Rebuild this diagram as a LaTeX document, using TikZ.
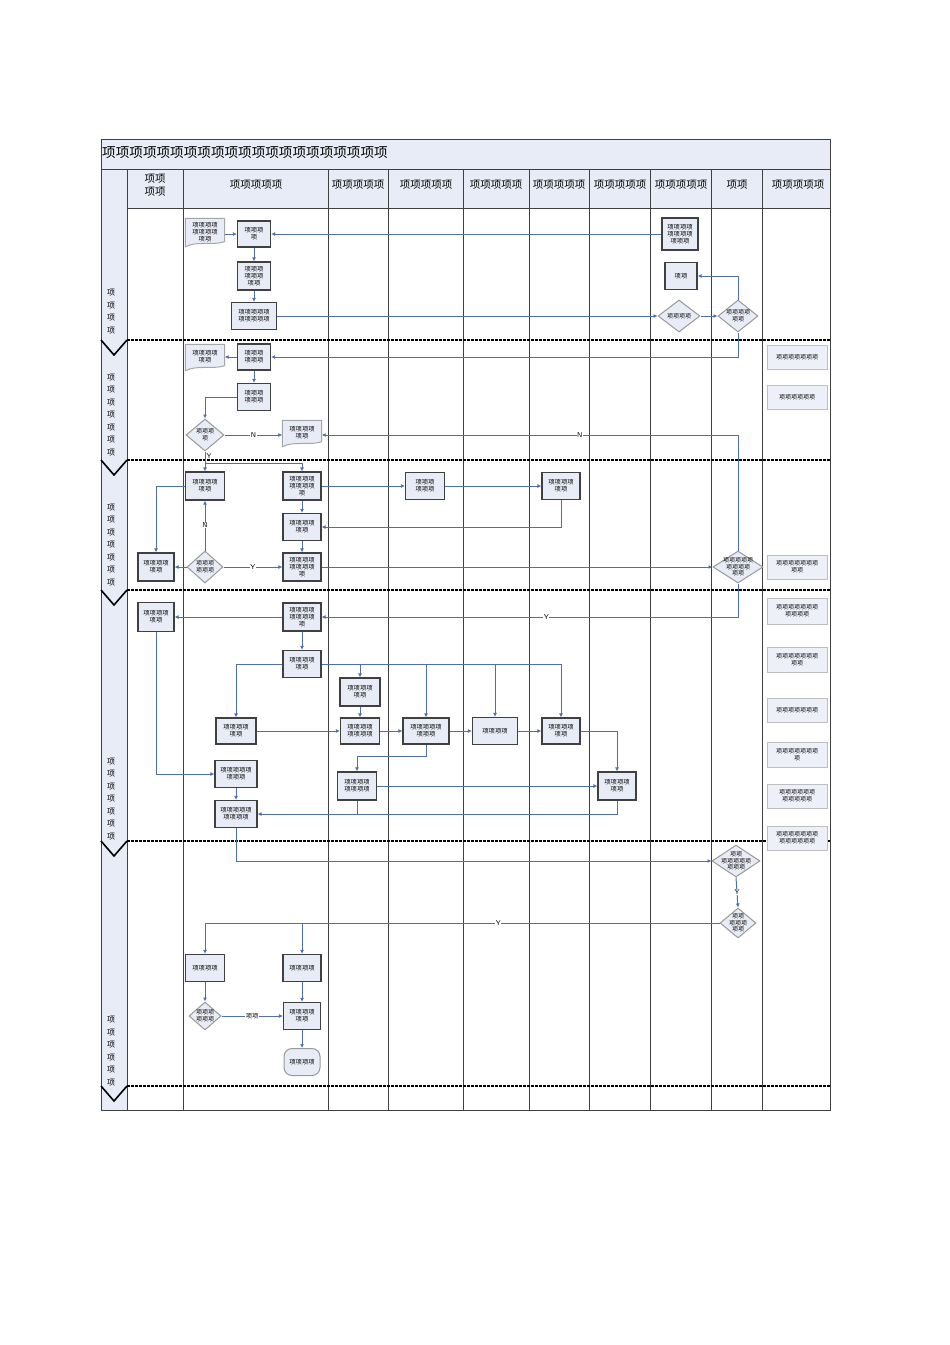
\documentclass[tikz,border=0pt]{standalone}
\usepackage{fontspec}
\newfontfamily\cjk{Noto Sans CJK SC}
\usetikzlibrary{shapes.geometric,arrows.meta,backgrounds}
\definecolor{fillb}{HTML}{E8ECF6}
\definecolor{lineb}{HTML}{4F6FA8}
\definecolor{dgray}{HTML}{404040}
\begin{document}
\begin{tikzpicture}[x=1pt,y=-1pt,
  box/.style={draw=dgray,line width=1.2pt,fill=fillb,minimum width=#1,inner sep=0.5pt,align=center,font=\cjk\fontsize{6.3}{7.2}\selectfont},
  box/.default=38pt,
  dia/.style={diamond,aspect=1.3,draw=gray!80,line width=1pt,fill=fillb,inner sep=-8pt,align=center,minimum width=#1,minimum height=32pt,font=\cjk\fontsize{6}{6.8}\selectfont},
  doc/.style={draw=none,minimum width=39pt,minimum height=27pt,inner sep=0.5pt,align=center,font=\cjk\fontsize{6.3}{7.2}\selectfont},
  note/.style={draw=gray!50,line width=0.8pt,fill=fillb!80,minimum width=60pt,minimum height=24pt,inner sep=0.5pt,align=center,font=\cjk\fontsize{6}{7.5}\selectfont},
  hdr/.style={font=\cjk\fontsize{10.5}{12.5}\selectfont,align=center},
  a/.style={draw=lineb,line width=1pt,-{Latex[length=4pt,width=4pt]}},
  l/.style={draw=lineb,line width=1pt},
  lbl/.style={fill=white,inner sep=0.5pt,font=\sffamily\fontsize{7}{8}\selectfont},
  grid/.style={draw=dgray,line width=1pt},
  lanesep/.style={draw=black,line width=1.6pt,dash pattern=on 2.5pt off 1.5pt}]
\useasboundingbox (0,0) rectangle (950,1345);
% frame and headers
\fill[fillb] (101,139) rectangle (830,208);
\fill[fillb] (101,208) rectangle (127,1110);
\draw[grid] (101,139) rectangle (830,1110);
\draw[grid] (101,169) -- (830,169);
\draw[grid] (127,208) -- (830,208);
\foreach \x in {127,183,328,388,463,529,589,650,711,762} \draw[grid] (\x,169) -- (\x,1110);
\node[anchor=west,inner sep=1pt,font=\cjk\fontsize{13.6}{15}\selectfont] (title) at (101,153) {项项项项项项项项项项项项项项项项项项项项项};
\node[hdr] (h1) at (155,185) {项项\\项项};
\node[hdr] (h2) at (256,185) {项项项项项};
\node[hdr] (h3) at (358,185) {项项项项项};
\node[hdr] (h4) at (426,185) {项项项项项};
\node[hdr] (h5) at (496,185) {项项项项项};
\node[hdr] (h6) at (559,185) {项项项项项};
\node[hdr] (h7) at (620,185) {项项项项项};
\node[hdr] (h8) at (681,185) {项项项项项};
\node[hdr] (h9) at (737,185) {项项};
\node[hdr] (h10) at (798,185) {项项项项项};
% lane separators
\foreach \y in {340,460,590,841,1086} {
  \draw[lanesep] (127,\y) -- (830,\y);
  \draw[black,line width=1.6pt] (101,\y) -- (114,\y+15) -- (127,\y);
}
\tikzset{lane/.style={font=\cjk\fontsize{8}{12.5}\selectfont,align=center,inner sep=0pt}}
\node[lane,anchor=south] (L1) at (111,334) {项\\项\\项\\项};
\node[lane,anchor=south] (L2) at (111,456) {项\\项\\项\\项\\项\\项\\项};
\node[lane,anchor=south] (L3) at (111,586) {项\\项\\项\\项\\项\\项\\项};
\node[lane,anchor=south] (L4) at (111,840) {项\\项\\项\\项\\项\\项\\项};
\node[lane,anchor=south] (L5) at (111,1086) {项\\项\\项\\项\\项\\项};
% lane 1
\node[doc] (doc1) at (205,232) {项项项项\\项项项项\\项项};
\node[box=33pt,minimum height=26pt] (b1) at (254,234) {项项项\\项};
\node[box=33pt,minimum height=28pt] (b2) at (254,276) {项项项\\项项项\\项项};
\node[box=45pt,minimum height=27pt] (b3) at (254,316) {项项项项项\\项项项项项};
\node[box=36pt,minimum height=32pt] (b4) at (680,234) {项项项项\\项项项项\\项项项};
\node[box=32pt,minimum height=27pt] (b5) at (681,276) {项项};
\node[dia=42pt] (d1) at (679,316) {项项项项};
\node[dia=40pt] (d2) at (738,316) {项项项项\\项项};
% lane 2
\node[doc,minimum height=25pt] (doc2) at (205,357) {项项项项\\项项};
\node[box=33pt,minimum height=26pt] (b6) at (254,357) {项项项\\项项项};
\node[box=33pt,minimum height=27pt] (b7) at (254,397) {项项项\\项项项};
\node[dia=38pt] (d3) at (205,435) {项项项\\项};
\node[doc,minimum height=25pt] (doc3) at (302,433) {项项项项\\项项};
\node[note] (n1) at (797,357) {项项项项项项项};
\node[note] (n2) at (797,397) {项项项项项项};
% lane 3
\node[box=39pt,minimum height=28pt] (b8) at (205,486) {项项项项\\项项};
\node[box=38pt,minimum height=28pt] (b9) at (302,486) {项项项项\\项项项项\\项};
\node[box=39pt,minimum height=27pt] (b10) at (425,486) {项项项\\项项项};
\node[box=38pt,minimum height=27pt] (b11) at (561,486) {项项项项\\项项};
\node[box=38pt,minimum height=27pt] (b12) at (302,527) {项项项项\\项项};
\node[dia=36pt] (d4) at (205,567) {项项项\\项项项};
\node[box=36pt,minimum height=28pt] (b13) at (156,567) {项项项项\\项项};
\node[box=38pt,minimum height=28pt] (b14) at (302,567) {项项项项\\项项项项\\项};
\node[dia=50pt] (d7) at (738,567) {项项项项项\\项项项项\\项项};
\node[note] (n3) at (797,567) {项项项项项项项\\项项};
% lane 4
\node[box=36pt,minimum height=29pt] (b15) at (156,617) {项项项项\\项项};
\node[box=38pt,minimum height=28pt] (b16) at (302,617) {项项项项\\项项项项\\项};
\node[box=38pt,minimum height=27pt] (b17) at (302,664) {项项项项\\项项};
\node[box=40pt,minimum height=28pt] (b18) at (360,692) {项项项项\\项项};
\node[box=40pt,minimum height=26pt] (b19) at (236,731) {项项项项\\项项};
\node[box=39pt,minimum height=26pt] (b20) at (360,731) {项项项项\\项项项项};
\node[box=46pt,minimum height=26pt] (b21) at (426,731) {项项项项项\\项项项};
\node[box=45pt,minimum height=27pt] (b22) at (495,731) {项项项项};
\node[box=38pt,minimum height=26pt] (b23) at (561,731) {项项项项\\项项};
\node[box=42pt,minimum height=27pt] (b24) at (236,774) {项项项项项\\项项项};
\node[box=39pt,minimum height=28pt] (b25) at (357,786) {项项项项\\项项项项};
\node[box=38pt,minimum height=28pt] (b26) at (617,786) {项项项项\\项项};
\node[box=42pt,minimum height=27pt] (b27) at (236,814) {项项项项项\\项项项项};
\node[note,minimum height=26pt] (n4) at (797,611) {项项项项项项项\\项项项项};
\node[note,minimum height=25pt] (n5) at (797,660) {项项项项项项项\\项项};
\node[note] (n6) at (797,710) {项项项项项项项};
\node[note,minimum height=25pt] (n7) at (797,755) {项项项项项项项\\项};
\node[note] (n8) at (797,796) {项项项项项项\\项项项项项};
\node[note] (n9) at (797,838) {项项项项项项项\\项项项项项项};
% lane 5
\node[dia=48pt] (d8) at (736,861) {项项\\项项项项项\\项项项};
\node[dia=36pt,minimum height=30pt] (d9) at (738,923) {项项\\项项项\\项项};
\node[box=39pt,minimum height=27pt] (b28) at (205,968) {项项项项};
\node[box=38pt,minimum height=27pt] (b29) at (302,968) {项项项项};
\node[dia=32pt,minimum height=28pt] (d10) at (205,1016) {项项项\\项项项};
\node[box=37pt,minimum height=27pt] (b30) at (302,1016) {项项项项\\项项};
\node[draw=gray!80,line width=1pt,fill=fillb,rounded corners=8pt,minimum width=36pt,minimum height=27pt,inner sep=0.5pt,font=\cjk\fontsize{6.3}{7.2}\selectfont] (term) at (302,1062) {项项项项};
% document shapes
\begin{scope}[on background layer]
\foreach \n in {doc1,doc2,doc3}
  \draw[draw=gray!70,line width=1pt,fill=fillb] (\n.north west) -- (\n.north east) -- ([yshift=4pt]\n.south east)
    .. controls +(-12pt,-4pt) and +(12pt,6pt) .. ([yshift=-1pt]\n.south west) -- cycle;
\end{scope}
% connectors lane 1
\draw[a] (doc1.east |- b1.west) -- (b1.west);
\draw[a] (b4.west) -- (b1.east);
\draw[a] (b1) -- (b2);
\draw[a] (b2) -- (b3);
\draw[a] (b3) -- (d1);
\draw[a] (d1) -- (d2);
\draw[a] (d2.north) |- (b5.east);
\draw[a] (d2.south) |- (b6.east);
% lane 2
\draw[a] (b6) -- (doc2);
\draw[a] (b6) -- (b7);
\draw[a] (b7.west) -| (d3.north);
\draw[a] (d3.east) -- node[lbl]{N} (doc3.west |- d3.east);
\draw[a] (d7.north) |- node[lbl,pos=0.69]{N} (doc3.east |- d3.east);
\draw[a] (d3.south) -- node[right,pos=0.25,inner sep=1pt,font=\sffamily\fontsize{7}{8}\selectfont]{Y} (b8.north);
\coordinate (j1) at (205,463);
\draw[a] (j1) -| (b9.north);
% lane 3
\draw[a] (b9) -- (b10);
\draw[a] (b10) -- (b11);
\draw[a] (b11.south) |- (b12.east);
\draw[a] (b9) -- (b12);
\draw[a] (b12) -- (b14);
\draw[a] (b8.west) -| (b13.north);
\draw[a] (d4.west) -- (b13.east);
\draw[a] (d4.north) -- node[lbl]{N} (b8.south);
\draw[a] (d4.east) -- node[lbl]{Y} (b14.west);
\draw[a] (b14.east) -- (d7.west);
\draw[a] (d7.south) |- node[lbl,pos=0.73]{Y} (b16.east);
% lane 4
\draw[a] (b16.west) -- (b15.east);
\draw[a] (b16) -- (b17);
\draw[a] (b15.south) |- (b24.west);
\draw[a] (b17.west) -| (b19.north);
\draw[a] (b17.east) -| (b23.north);
\draw[a] (b18.north |- b17.east) -- (b18.north);
\draw[a] (b21.north |- b17.east) -- (b21.north);
\draw[a] (b22.north |- b17.east) -- (b22.north);
\draw[a] (b18) -- (b20);
\draw[a] (b19) -- (b20);
\draw[a] (b20) -- (b21);
\draw[a] (b21) -- (b22);
\draw[a] (b22) -- (b23);
\draw[a] (b23.east) -| (b26.north);
\draw[a] (b21.south) -- ++(0,12) -| (b25.north);
\draw[a] (b25) -- (b26);
\draw[a] (b26.south) |- (b27.east);
\draw[l] (b25.south) -- (b25.south |- b27.east);
\draw[a] (b24) -- (b27);
\draw[a] (b27.south) |- (d8.west);
% lane 5
\draw[a] (d8.south) -- node[lbl]{Y} (d9.north);
\draw[a] (d9.west) -| (b28.north);
\path (d9.west) -- node[lbl,pos=0.43]{Y} (b28.north |- d9.west);
\draw[a] (b29.north |- d9.west) -- (b29.north);
\draw[a] (b28) -- (d10);
\draw[a] (d10.east) -- node[lbl,font=\cjk\fontsize{6.3}{7}\selectfont]{项项} (b30.west);
\draw[a] (b29) -- (b30);
\draw[a] (b30) -- (term);
\end{tikzpicture}
\end{document}
